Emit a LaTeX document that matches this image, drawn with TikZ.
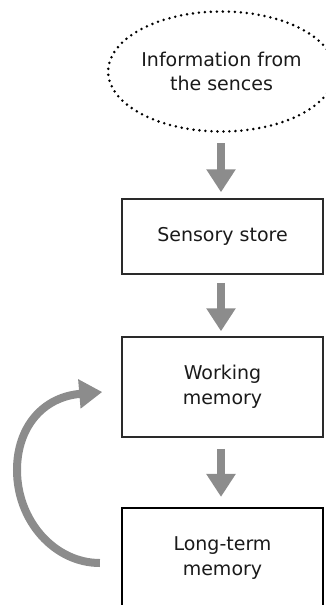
\documentclass[tikz,border=0pt]{standalone}
\usepackage{fontspec}
\setmainfont{DejaVu Sans}
\usetikzlibrary{arrows.meta,shapes.geometric}
\definecolor{arrowgray}{HTML}{8C8C8C}
\definecolor{boxline}{HTML}{2A2A2A}
\definecolor{txt}{HTML}{1A1A1A}
\begin{document}
\begin{tikzpicture}[x=1pt,y=-1pt,
  every node/.style={font=\fontsize{19}{24.5}\selectfont, text=txt, align=center, inner sep=0pt},
  infobox/.style={ellipse, draw=black, line width=2.8pt, dash pattern=on 0pt off 6pt, line cap=round, minimum width=221pt, minimum height=120pt},
  membox/.style={rectangle, draw=boxline, line width=1.5pt, minimum width=201pt},
  flow/.style={draw=arrowgray, line width=8pt, -{Triangle[length=23pt,width=28pt]}}
]
\useasboundingbox (0,0) rectangle (325,605);
\node[infobox] (info) at (221.5,71.5) {Information from\\the sences};
\node[membox, minimum height=75pt] (sens) at (222.5,236.5) {Sensory store};
\node[membox, minimum height=100pt] (wm) at (222.5,387) {Working\\memory};
\node[membox, minimum height=100pt, draw=black, line width=2.2pt] (ltm) at (222.5,558) {Long-term\\memory};
\draw[flow, shorten <=10.5pt, shorten >=6pt] ([xshift=-0.5pt]info.south) -- ([xshift=-1.5pt]sens.north);
\draw[flow, shorten <=8pt, shorten >=5pt] ([xshift=-1.5pt]sens.south) -- ([xshift=-1.5pt]wm.north);
\draw[flow, shorten <=11pt, shorten >=10pt] ([xshift=-1.5pt]wm.south) -- ([xshift=-1.5pt]ltm.north);
\coordinate (loopstart) at ([shift={(-21pt,-5pt)}]ltm.west);
\coordinate (loopend) at ([shift={(-19pt,-5pt)}]wm.west);
\draw[flow] (loopstart) .. controls (54.6,563) and (17,521) .. (17,470)
  .. controls (17,428) and (42,397) .. (loopend);
\end{tikzpicture}
\end{document}
